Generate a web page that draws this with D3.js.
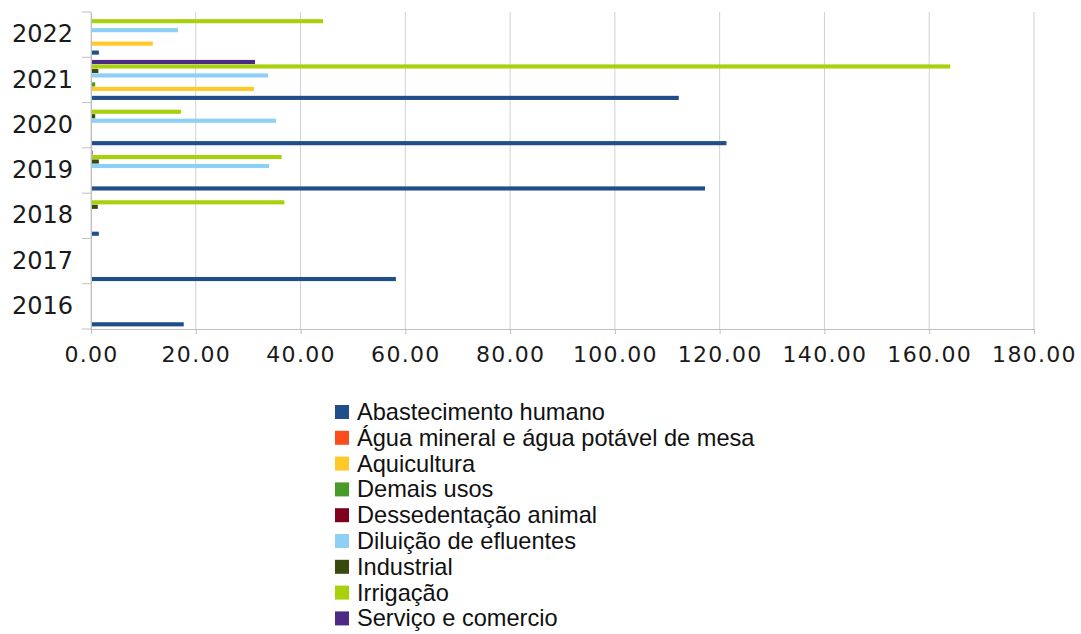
<!DOCTYPE html>
<html><head><meta charset="utf-8">
<script src="https://cdn.jsdelivr.net/npm/d3@7"></script>
<style>
html,body{margin:0;padding:0;background:#fff;}
svg{display:block;}
</style></head>
<body>
<svg id="chart" width="1081" height="634"></svg>
<script>
const years = ["2016","2017","2018","2019","2020","2021","2022"];
const seriesNames = ["Abastecimento humano","Água mineral e água potável de mesa","Aquicultura","Demais usos","Dessedentação animal","Diluição de efluentes","Industrial","Irrigação","Serviço e comercio"];
const seriesColors = ["#1f4e89","#fc4c1c","#ffca28","#4a9a2a","#800020","#8ecff5","#394a0e","#a9d10b","#4c2a85"];
const abastecimento = [17.7, 58.2, 1.5, 117.2, 121.3, 112.2, 1.5];
const aguaMineral   = [0, 0, 0, 0, 0, 0, 0];
const aquicultura   = [0, 0, 0, 0, 0, 31.1, 11.8];
const demaisUsos    = [0, 0, 0, 0, 0, 0.8, 0];
const dessedentacao = [0, 0, 0, 0, 0, 0, 0];
const diluicao      = [0, 0, 0, 34.0, 35.3, 33.8, 16.6];
const industrial    = [0, 0, 1.3, 1.5, 0.8, 1.4, 0];
const irrigacao     = [0, 0, 36.9, 36.4, 17.2, 164.0, 44.3];
const servico       = [0, 0, 0, 0.3, 0, 31.3, 0.2];
const xTicks = [0,20,40,60,80,100,120,140,160,180];

const seriesValues = [abastecimento, aguaMineral, aquicultura, demaisUsos, dessedentacao, diluicao, industrial, irrigacao, servico];

const svg = d3.select("#chart");
const L = 91, R = 1034, T = 12, B = 329;

const x = d3.scaleLinear().domain([0,180]).range([L,R]);
const y = d3.scaleBand().domain(years).range([B,T]).paddingInner(0.1).paddingOuter(0.05);
const ySlot = d3.scaleBand().domain(years).range([B,T]).padding(0);
const yInner = d3.scaleBand().domain(d3.range(seriesNames.length)).range([0, y.bandwidth()]).padding(0.08);

// gridlines
svg.append("g").selectAll("line").data(xTicks).join("line")
  .attr("x1", d=>x(d)).attr("x2", d=>x(d))
  .attr("y1", T).attr("y2", B)
  .attr("stroke", "#d0d0d0").attr("stroke-width", 1);

// bars
const groups = svg.append("g").selectAll("g").data(years).join("g")
  .attr("transform", d => `translate(0,${y(d)})`);
groups.each(function(yr, yi){
  const g = d3.select(this);
  seriesNames.forEach((s, si) => {
    const v = seriesValues[si][yi];
    if (v <= 0) return;
    const idx = seriesNames.length - 1 - si;
    g.append("rect")
      .attr("x", x(0)).attr("y", yInner(idx))
      .attr("width", x(v) - x(0)).attr("height", yInner.bandwidth())
      .attr("fill", seriesColors[si]);
  });
});

// x axis
const xAxis = d3.axisBottom(x).tickValues(xTicks).tickFormat(d3.format(".2f")).tickSize(5).tickPadding(12);
const gx = svg.append("g").attr("transform", `translate(0,${B})`).call(xAxis);
gx.select(".domain").attr("stroke", "#bfbfbf");
gx.selectAll(".tick line").attr("stroke", "#bfbfbf");
gx.selectAll("text").attr("font-family", "DejaVu Sans").attr("font-size", 22)
  .attr("letter-spacing", 1.3).attr("fill", "#1a1a1a");

// y axis
const yAxis = d3.axisLeft(ySlot).tickSize(0).tickPadding(18);
const gy = svg.append("g").attr("transform", `translate(${L},0)`).call(yAxis);
gy.select(".domain").attr("stroke", "#bfbfbf");
gy.selectAll("text").attr("font-family", "DejaVu Sans").attr("font-size", 24).attr("fill", "#1a1a1a");
svg.append("g").selectAll("line").data(years.concat(["_end"])).join("line")
  .attr("x1", L-9).attr("x2", L)
  .attr("y1", (d,i) => i < years.length ? ySlot(years[i]) + ySlot.bandwidth() : T)
  .attr("y2", (d,i) => i < years.length ? ySlot(years[i]) + ySlot.bandwidth() : T)
  .attr("stroke", "#bfbfbf");

// legend
const legend = svg.append("g").attr("transform", "translate(335,402)");
const li = legend.selectAll("g").data(seriesNames).join("g")
  .attr("transform", (d,i) => `translate(0,${i*25.8})`);
li.append("rect").attr("width", 14).attr("height", 14).attr("y", 3)
  .attr("fill", (d,i) => seriesColors[i]);
li.append("text").attr("x", 22).attr("y", 18)
  .attr("font-family", "Liberation Sans").attr("font-size", 23.6).attr("fill", "#111")
  .text(d => d);
</script>
</body></html>
